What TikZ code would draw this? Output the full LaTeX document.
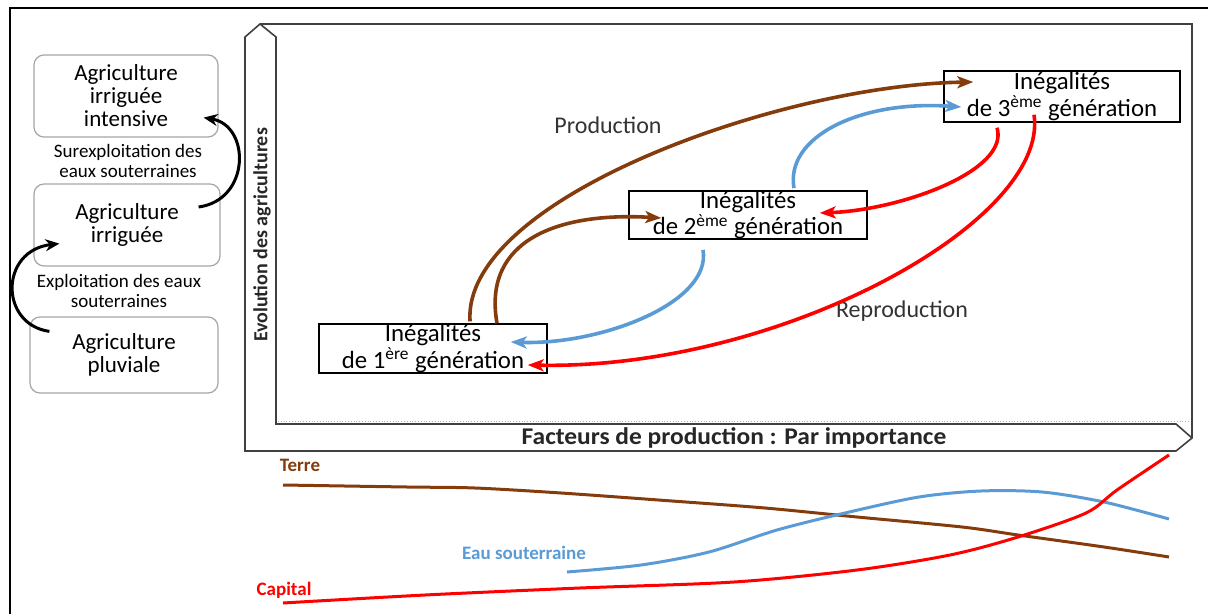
\documentclass[tikz,border=0pt]{standalone}
\usepackage{fontspec}
\setmainfont{Carlito}
\usetikzlibrary{calc,arrows.meta}
\tikzset {>={Stealth[length=8pt,width=6pt,inset=2pt]}}
\definecolor{terre}{RGB}{132,60,12}
\definecolor{eau}{RGB}{91,155,213}
\definecolor{capital}{RGB}{255,0,0}
\tikzset{
  agri/.style={draw=black!35, rounded corners=5pt, line width=.6pt,
    align=center, inner sep=0pt, font=\fontsize{11.5}{11.5}\selectfont},
  ineg/.style={draw, line width=.7pt, align=center, inner sep=0pt,
    font=\fontsize{12.4}{12}\selectfont},
  flux/.style={line width=1.8pt, ->},
  courbe/.style={line width=1.5pt},
  legende/.style={font=\bfseries\fontsize{9.5}{11}\selectfont}
}

\begin{document}
\begin{tikzpicture}[x=.5pt,y=-.5pt]
\useasboundingbox (0,0) rectangle (1208,614);
\draw[line width=1pt] (1208,8) -- (10,8) -- (10,614);
% les deux axes
\draw[line width=.8pt,black!75] (245,451) -- (245,37) -- (260,24) --
  (276,37) -- (276,424) -- (1176,424) -- (1192,438) -- (1176,451) -- cycle;
\draw[line width=.8pt,black!75] (260,24) -- (1192,24) -- (1192,438);
\draw[black!30,densely dotted,line width=.4pt] (278,421) -- (1190,421);
\node[rotate=90,font=\bfseries\fontsize{10}{12}\selectfont,black!85] (axey)
  at (262,235) {Evolution des agricultures};
\node[font=\bfseries\fontsize{12}{14}\selectfont,black!85] (axex)
  at (734,438) {\scalebox{1.06}[1]{Facteurs de production : Par importance}};

% types d'agriculture
\node[agri,minimum width=92pt,minimum height=41pt] (agint) at (126,96)
  {Agriculture\\irriguée\\intensive};
\node[agri,minimum width=93pt,minimum height=41pt] (agirr) at (127,225)
  {Agriculture\\irriguée};
\node[agri,minimum width=94pt,minimum height=38pt] (agpluv) at (124,355)
  {Agriculture\\pluviale};
\node[align=center,font=\fontsize{9.5}{10}\selectfont] (surexp) at (128,161)
  {Surexploitation des\\eaux souterraines};
\node[align=center,font=\fontsize{9.5}{10}\selectfont] (exploit) at (119,291)
  {Exploitation des eaux\\souterraines};
\draw[line width=1.5pt,-{Stealth[length=7pt,width=6pt]}]
  ([shift={(-22,-18)}]agirr.east) .. controls +(52,-7) and +(47,8) ..
  ([shift={(-15,-20)}]agint.south east);
\draw[line width=1.5pt,-{Stealth[length=7pt,width=6pt]}]
  ([shift={(20,15)}]agpluv.north west) .. controls +(-50,-7) and +(-60,7) ..
  ([shift={(26,-23)}]agirr.south west);

% inegalites
\node[ineg,minimum width=114pt,minimum height=24.5pt] (ineg1) at (433,348.5)
  {Inégalités\\de 1\textsuperscript{ère} génération};
\node[ineg,minimum width=119pt,minimum height=22pt] (ineg2) at (748,215)
  {Inégalités\\de 2\textsuperscript{ème} génération};
\node[ineg,minimum width=118pt,minimum height=25.5pt] (ineg3) at (1062,96.5)
  {Inégalités\\de 3\textsuperscript{ème} génération};
\node[font=\fontsize{12}{14}\selectfont,black!80] (prod) at (608,125) {Production};
\node[font=\fontsize{12}{14}\selectfont,black!80] (reprod) at (902,311) {Reproduction};

\draw[flux,terre] ([shift={(37,-2)}]ineg1.north) .. controls +(-8,-122)
  and +(-194,3) .. ([shift={(30,-14.5)}]ineg3.west);
\draw[flux,terre] ([shift={(64,0)}]ineg1.north) .. controls +(-15,-84)
  and +(-102,-6) .. ([shift={(33,3)}]ineg2.west);
\draw[flux,eau] ([shift={(46,-2)}]ineg2.north) .. controls +(-9,-51)
  and +(-102,-7) .. ([shift={(18,10.5)}]ineg3.west);
\draw[flux,eau] ([shift={(-45,10)}]ineg2.south) .. controls +(9,53)
  and +(90,3) .. ([shift={(-37,-6.5)}]ineg1.east);
\draw[flux,capital] ([shift={(-65,5)}]ineg3.south) .. controls +(13,43)
  and +(81,-3) .. ([shift={(-48,-2)}]ineg2.east);
\draw[flux,capital] ([shift={(-28,-8)}]ineg3.south) .. controls +(16,106)
  and +(253,5) .. ([shift={(-20,16.5)}]ineg1.east);

% facteurs de production
\draw[courbe,terre] plot[smooth] coordinates {(283,485) (407,487) (475,488)
  (561,493) (672,501) (765,508) (857,517) (962,527) (1018,535) (1104,547)
  (1169,557)};
\draw[courbe,eau] plot[smooth] coordinates {(567,572) (641,565) (709,552)
  (777,530) (845,513) (919,497) (981,491) (1042,492) (1104,502) (1169,519)};
\draw[courbe,capital] plot[smooth] coordinates {(283,603) (425,595) (580,588)
  (734,582) (857,570) (950,555) (1018,537) (1086,513) (1117,490) (1169,455)};
\node[legende,terre] (lterre) at (300,465) {Terre};
\node[legende,eau] (leau) at (524,553) {Eau souterraine};
\node[legende,capital] (lcapital) at (284,590) {Capital};
\end{tikzpicture}
\end{document}
